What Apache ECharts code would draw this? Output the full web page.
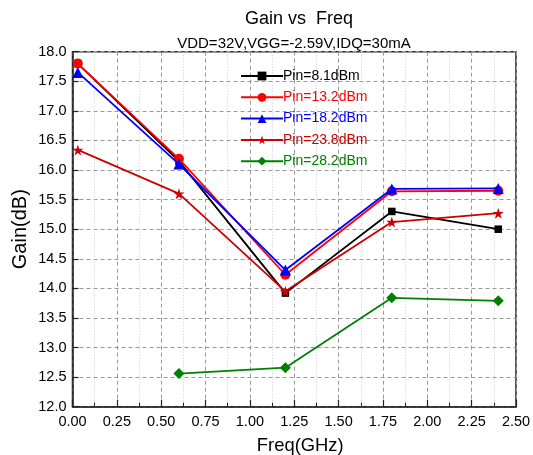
<!DOCTYPE html>
<html>
<head>
<meta charset="utf-8">
<script src="https://cdn.jsdelivr.net/npm/echarts@6/dist/echarts.min.js"></script>
<style>
html, body { margin: 0; padding: 0; background: #fff; }
#main { width: 533px; height: 455px; }
</style>
</head>
<body>
<div id="main"></div>
<script>
// 频率点 (GHz)
var freq = [0.03, 0.6, 1.2, 1.8, 2.4];
var freqGreen = [0.6, 1.2, 1.8, 2.4];
// 各输入功率下的增益 (dB)
var pin81 = [17.8, 16.15, 13.92, 15.3, 15.0];
var pin132 = [17.8, 16.19, 14.23, 15.64, 15.65];
var pin182 = [17.65, 16.1, 14.31, 15.68, 15.69];
var pin238 = [16.34, 15.6, 13.95, 15.12, 15.27];
var pin282 = [12.56, 12.66, 13.84, 13.79];
var names = ['Pin=8.1dBm', 'Pin=13.2dBm', 'Pin=18.2dBm', 'Pin=23.8dBm', 'Pin=28.2dBm'];
var colors = ['#000000', '#ff0000', '#0000ff', '#cc0000', '#008000'];

var star = 'path://M50,0 L61,35 L98,35 L68,57 L79,91 L50,70 L21,91 L32,57 L2,35 L39,35 Z';

function pair(xs, ys) {
	var out = [];
	for (var i = 0; i < xs.length; i++) {
		out.push([xs[i], ys[i]]);
	}
	return out;
}

function mkSeries(i, xs, ys, symbol, size) {
	return {
		name: names[i],
		type: 'line',
		data: pair(xs, ys),
		symbol: symbol,
		symbolSize: size,
		color: colors[i],
		lineStyle: { width: 1.8, color: colors[i] },
		itemStyle: { color: colors[i] },
		z: 2 + i
	};
}

var myChart = echarts.init(document.getElementById('main'));
var option = {
	backgroundColor: '#fff',
	animation: false,
	title: [{
		text: 'Gain vs  Freq',
		left: 294, top: 5, textAlign: 'center',
		textStyle: { fontFamily: 'Liberation Sans, Arial', fontSize: 18, fontWeight: 'normal', color: '#000' }
	}, {
		text: 'VDD=32V,VGG=-2.59V,IDQ=30mA',
		left: 289, top: 31, textAlign: 'center',
		textStyle: { fontFamily: 'Liberation Sans, Arial', fontSize: 15, fontWeight: 'normal', color: '#000' }
	}],
	legend: {
		orient: 'vertical',
		left: 235,
		top: 64,
		itemWidth: 42,
		itemHeight: 11,
		itemGap: 7.3,
		data: names.map(function(n, i) {
			return { name: n, textStyle: { color: colors[i] } };
		}),
		textStyle: { fontFamily: 'Liberation Sans, Arial', fontSize: 14, padding: [0, 0, 0, -5] }
	},
	grid: {
		left: 72.5,
		right: 17,
		top: 51.7,
		bottom: 48.3,
		show: true,
		borderColor: '#222',
		borderWidth: 1.5,
		containLabel: false,
		outerBoundsMode: 'none'
	},
	xAxis: {
		type: 'value',
		min: 0,
		max: 2.5,
		interval: 0.25,
		name: 'Freq(GHz)',
		nameLocation: 'middle',
		nameGap: 30,
		nameMoveOverlap: false,
		nameTextStyle: { fontFamily: 'Liberation Sans, Arial', fontSize: 18.4, color: '#000', padding: [0, 0, 0, 12] },
		axisLine: { lineStyle: { color: '#222', width: 1.5 } },
		axisTick: { inside: true, length: 7, lineStyle: { color: '#222', width: 1.2 } },
		minorTick: { show: true, splitNumber: 2, length: 4, lineStyle: { color: '#222', width: 1 } },
		axisLabel: {
			fontFamily: 'Liberation Sans, Arial', fontSize: 14.5, color: '#000', margin: 8,
			formatter: function(v) { return v.toFixed(2); }
		},
		splitLine: { show: true, lineStyle: { color: '#999', type: [4, 3], width: 1 } },
		minorSplitLine: { show: true, lineStyle: { color: '#ccc', type: [1, 2], width: 1 } }
	},
	yAxis: {
		type: 'value',
		min: 12,
		max: 18,
		interval: 0.5,
		name: 'Gain(dB)',
		nameLocation: 'middle',
		nameGap: 42,
		nameMoveOverlap: false,
		nameTextStyle: { fontFamily: 'Liberation Sans, Arial', fontSize: 20, color: '#000' },
		axisLine: { lineStyle: { color: '#222', width: 1.5 } },
		axisTick: { inside: true, length: 6, lineStyle: { color: '#222', width: 1.2 } },
		axisLabel: {
			fontFamily: 'Liberation Sans, Arial', fontSize: 14.5, color: '#000', margin: 6,
			formatter: function(v) { return v.toFixed(1); }
		},
		splitLine: { show: true, lineStyle: { color: '#999', type: [4, 3], width: 1 } }
	},
	series: [
		mkSeries(0, freq, pin81, 'rect', 7.5),
		mkSeries(1, freq, pin132, 'circle', 10),
		mkSeries(2, freq, pin182, 'triangle', 11),
		mkSeries(3, freq, pin238, star, 11),
		mkSeries(4, freqGreen, pin282, 'diamond', 11)
	]
};
myChart.setOption(option);
</script>
</body>
</html>
